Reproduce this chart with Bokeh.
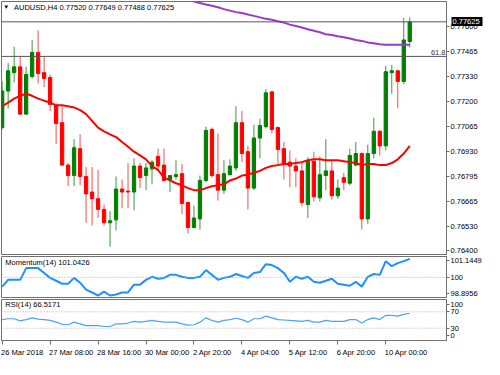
import numpy as np
from bokeh.plotting import figure
from bokeh.models import (Range1d, FixedTicker, PrintfTickFormatter, Label, Span, ColumnDataSource,
                          LinearAxis)
from bokeh.layouts import column
from bokeh.embed import file_html
from bokeh.resources import INLINE

FONT = "Liberation Sans"
FS = "7.5px"

# ---------------- data (AUDUSD H4) ----------------
open_px = [0.77059, 0.77255, 0.77353, 0.77384, 0.77131, 0.77332, 0.77461, 0.77353, 0.77327, 0.77178,
           0.77085, 0.76858, 0.76802, 0.76946, 0.76797, 0.76714, 0.76678, 0.76621, 0.76549, 0.76565,
           0.76730, 0.76719, 0.76714, 0.76853, 0.76802, 0.76838, 0.76905, 0.76858, 0.76781, 0.76797,
           0.76812, 0.76658, 0.76524, 0.76570, 0.76776, 0.77049, 0.76807, 0.76724, 0.76807, 0.76843,
           0.77085, 0.76930, 0.76735, 0.77003, 0.77064, 0.77250, 0.77059, 0.76946, 0.76874, 0.76853,
           0.76827, 0.76647, 0.76879, 0.76683, 0.76802, 0.76827, 0.76694, 0.76791, 0.76761, 0.76858,
           0.76920, 0.76570, 0.76920, 0.77039, 0.76961, 0.77353, 0.77363, 0.77306, 0.77520]
high_px = [0.77306, 0.77404, 0.77492, 0.77440, 0.77384, 0.77528, 0.77579, 0.77440, 0.77343, 0.77188,
           0.77173, 0.76869, 0.76997, 0.77023, 0.76848, 0.76848, 0.76833, 0.76647, 0.76611, 0.76797,
           0.76781, 0.76869, 0.76894, 0.76869, 0.76869, 0.76884, 0.76946, 0.76946, 0.76802, 0.76884,
           0.76864, 0.76663, 0.76642, 0.76802, 0.77064, 0.77059, 0.77028, 0.76884, 0.76889, 0.77173,
           0.77147, 0.76961, 0.77075, 0.77106, 0.77265, 0.77255, 0.77064, 0.76982, 0.76936, 0.76894,
           0.76879, 0.76900, 0.76930, 0.76905, 0.76997, 0.76879, 0.76781, 0.76817, 0.76946, 0.76982,
           0.76925, 0.76967, 0.77111, 0.77044, 0.77389, 0.77394, 0.77368, 0.77646, 0.77649]
low_px = [0.77049, 0.77162, 0.77301, 0.77126, 0.77126, 0.77322, 0.77296, 0.77276, 0.77147, 0.76972,
          0.76853, 0.76745, 0.76745, 0.76750, 0.76549, 0.76534, 0.76575, 0.76534, 0.76421, 0.76508,
          0.76627, 0.76627, 0.76616, 0.76735, 0.76724, 0.76755, 0.76827, 0.76771, 0.76714, 0.76781,
          0.76596, 0.76493, 0.76518, 0.76513, 0.76766, 0.76791, 0.76668, 0.76704, 0.76802, 0.76827,
          0.76874, 0.76621, 0.76724, 0.76894, 0.77054, 0.77028, 0.76858, 0.76781, 0.76740, 0.76740,
          0.76637, 0.76575, 0.76663, 0.76663, 0.76724, 0.76673, 0.76678, 0.76724, 0.76750, 0.76853,
          0.76513, 0.76544, 0.76894, 0.76910, 0.76936, 0.77240, 0.77162, 0.77291, 0.77488]
close_px = [0.77255, 0.77363, 0.77384, 0.77131, 0.77343, 0.77461, 0.77348, 0.77322, 0.77183, 0.77080,
            0.76858, 0.76802, 0.76951, 0.76797, 0.76704, 0.76678, 0.76621, 0.76549, 0.76560, 0.76730,
            0.76714, 0.76714, 0.76853, 0.76791, 0.76843, 0.76874, 0.76853, 0.76776, 0.76802, 0.76807,
            0.76652, 0.76524, 0.76575, 0.76776, 0.77044, 0.76802, 0.76724, 0.76812, 0.76853, 0.77085,
            0.76920, 0.76735, 0.77003, 0.77070, 0.77245, 0.77049, 0.76941, 0.76864, 0.76853, 0.76827,
            0.76658, 0.76879, 0.76688, 0.76807, 0.76827, 0.76694, 0.76735, 0.76766, 0.76910, 0.76920,
            0.76570, 0.76920, 0.77039, 0.76961, 0.77358, 0.77363, 0.77306, 0.77528, 0.77625]
ma_red = [0.77173, 0.77193, 0.77214, 0.77229, 0.77240, 0.77229, 0.77214, 0.77203, 0.77193, 0.77178,
          0.77178, 0.77173, 0.77167, 0.77152, 0.77131, 0.77095, 0.77059, 0.77039, 0.77023, 0.77008,
          0.76982, 0.76956, 0.76930, 0.76910, 0.76889, 0.76853, 0.76833, 0.76791, 0.76776, 0.76761,
          0.76750, 0.76735, 0.76724, 0.76724, 0.76735, 0.76745, 0.76750, 0.76755, 0.76776, 0.76786,
          0.76802, 0.76807, 0.76817, 0.76827, 0.76843, 0.76853, 0.76858, 0.76864, 0.76864, 0.76869,
          0.76874, 0.76884, 0.76889, 0.76889, 0.76884, 0.76884, 0.76884, 0.76879, 0.76874, 0.76869,
          0.76858, 0.76864, 0.76864, 0.76858, 0.76858, 0.76869, 0.76889, 0.76920, 0.76961]
purple_start = 30
ma_purple = [0.77749, 0.77744, 0.77734, 0.77726, 0.77718, 0.77711, 0.77703, 0.77693, 0.77685, 0.77677,
             0.77672, 0.77664, 0.77657, 0.77649, 0.77641, 0.77636, 0.77628, 0.77621, 0.77610, 0.77603,
             0.77595, 0.77585, 0.77577, 0.77569, 0.77559, 0.77554, 0.77548, 0.77543, 0.77536, 0.77528,
             0.77523, 0.77515, 0.77510, 0.77505, 0.77502, 0.77502, 0.77502, 0.77502, 0.77502]
momentum = [99.48, 99.86, 99.86, 99.86, 100.52, 100.52, 100.52, 100.25, 99.97, 99.81,
            99.64, 99.64, 99.97, 99.70, 99.31, 99.15, 98.98, 99.20, 98.98, 99.04,
            99.15, 99.15, 99.59, 99.59, 99.86, 100.03, 99.92, 99.97, 100.14, 100.14,
            100.03, 99.97, 99.97, 100.03, 100.41, 100.14, 99.86, 99.97, 100.03, 100.19,
            100.08, 99.97, 100.25, 100.30, 100.74, 100.69, 100.52, 100.25, 99.75, 100.03,
            99.92, 100.03, 99.75, 99.70, 99.81, 99.92, 99.64, 99.59, 99.53, 99.75,
            99.48, 100.03, 100.19, 100.14, 100.91, 100.63, 100.80, 100.91, 101.04]
rsi = [51.0, 53.1, 53.1, 47.9, 51.0, 55.2, 52.1, 51.0, 48.9, 44.7,
       39.5, 38.4, 44.7, 40.5, 36.3, 36.3, 36.3, 34.2, 34.2, 40.5,
       40.5, 42.6, 46.8, 44.7, 46.8, 48.9, 46.8, 44.7, 44.7, 44.7,
       40.5, 37.4, 38.4, 44.7, 55.2, 48.9, 44.7, 48.9, 51.0, 54.2,
       51.0, 44.7, 53.1, 53.1, 59.4, 55.2, 51.0, 50.0, 48.9, 47.9,
       46.8, 48.9, 44.7, 44.7, 48.9, 46.8, 46.8, 46.8, 51.0, 51.0,
       42.6, 51.0, 55.2, 51.0, 61.5, 61.5, 59.4, 63.6, 66.5]
price_ticks = [0.77600, 0.77465, 0.77330, 0.77200, 0.77065, 0.76930, 0.76795, 0.76665, 0.76530, 0.76400]
time_tick_bars = [0, 8, 16, 24, 32, 40, 48, 56, 64]
time_tick_labels = ["26 Mar 2018", "27 Mar 08:00", "28 Mar 16:00", "30 Mar 00:00", "2 Apr 20:00",
                    "4 Apr 04:00", "5 Apr 12:00", "6 Apr 20:00", "10 Apr 00:00"]
title_text = "AUDUSD,H4  0.77520 0.77649 0.77488 0.77625"
bid_price = 0.77625
fib_level = 0.77440
fib_label = "61.8"
mom_title = "Momentum(14) 101.0426"
rsi_title = "RSI(14) 66.5171"
mom_tick_pos = [99.094, 100.0, 100.96]
mom_tick_text = ["98.8956", "100", "101.1449"]
rsi_tick_pos = [11, 30, 70, 89]
rsi_tick_text = ["0", "30", "70", "100"]

# ---------------- build ----------------
n = len(close_px)
idx = np.arange(n)
o = np.array(open_px); h = np.array(high_px); l = np.array(low_px); c = np.array(close_px)
bull = c >= o
src = ColumnDataSource(dict(
    x=idx, top=np.maximum(o, c), bottom=np.minimum(o, c), high=h, low=l,
    body=np.where(bull, "#008000", "#ff0000").tolist(),
    wick=np.where(bull, "#3a9a3a", "#ff4a4a").tolist()))

GRAY = "#707070"
W = 484
BORDER_L, BORDER_R = 1, 37
FRAME_W = W - BORDER_L - BORDER_R
X0, X1 = -0.11, 74.13
xr = Range1d(X0, X1)
PX_PER_BAR = FRAME_W / (X1 - X0)

# approximate Liberation Sans advance widths (em) to left-align date labels at their ticks
_CW = {" ": 0.278, ":": 0.278, "M": 0.833, "A": 0.667, "a": 0.556, "r": 0.333, "p": 0.556, ".": 0.278}


def text_px(s, size=7.5):
    return sum(_CW.get(ch, 0.556) for ch in s) * size


def make_fig(height, yr, top, bottom, with_x):
    p = figure(width=W, height=height, x_range=xr, y_range=yr, output_backend="svg",
               toolbar_location=None, tools="", y_axis_location="right",
               x_axis_location="below" if with_x else None,
               min_border_left=BORDER_L, min_border_right=BORDER_R,
               min_border_top=top, min_border_bottom=bottom)
    p.grid.visible = False
    p.outline_line_color = GRAY
    p.outline_line_width = 1
    p.background_fill_color = "white"
    p.border_fill_color = "white"
    for ax in p.yaxis:
        ax.axis_line_color = GRAY
        ax.major_tick_line_color = GRAY
        ax.minor_tick_line_color = None
        ax.major_tick_out = 3
        ax.major_tick_in = 0
        ax.major_label_standoff = 1
        ax.major_label_text_font = FONT
        ax.major_label_text_font_size = FS
        ax.major_label_text_color = "black"
    return p


# main price panel
main = make_fig(255, Range1d(0.763795, 0.777339), 1, 1, False)
main.yaxis.ticker = FixedTicker(ticks=price_ticks)
main.yaxis.formatter = PrintfTickFormatter(format="%.5f")
main.add_layout(Span(location=bid_price, dimension="width", line_color="#555555", line_width=1))
main.add_layout(Span(location=fib_level, dimension="width", line_color="#555555", line_width=1))
main.segment(x0="x", y0="low", x1="x", y1="high", line_color="wick", line_width=1, source=src)
main.vbar(x="x", width=0.55, top="top", bottom="bottom", fill_color="body", line_color="body",
          line_width=1, source=src)
main.line(idx, ma_red, line_color="#ff0000", line_width=2)
main.line(list(range(purple_start, purple_start + len(ma_purple))), ma_purple,
          line_color="#9a3acd", line_width=2)
main.add_layout(Label(x=0.69, y=0.77703, text="\u25BC", text_font=FONT, text_font_size="6px",
                      text_baseline="middle", text_align="center", text_color="black"))
main.add_layout(Label(x=1.97, y=0.77703, text=title_text, text_font=FONT, text_font_size=FS,
                      text_baseline="middle", text_align="left", text_color="black"))
main.add_layout(Label(x=X1, y=fib_level, text=fib_label, text_font=FONT, text_font_size=FS,
                      text_baseline="bottom", text_align="right", x_offset=-1, y_offset=1,
                      text_color="#333333"))

# current price tag: a second right axis stacked outside the price axis; its single tick is
# drawn inwards as a thick black bar and its white label pulled back over that bar
price_axis_w = 3 + 1 + round(text_px("0.77600"))          # tick_out + standoff + label width
tag_axis = LinearAxis(ticker=FixedTicker(ticks=[bid_price]), formatter=PrintfTickFormatter(format="%.5f"),
                      axis_line_color=None, minor_tick_line_color=None,
                      major_tick_line_color="black", major_tick_line_width=9,
                      major_tick_in=price_axis_w - 2, major_tick_out=2,
                      major_label_standoff=-(price_axis_w - 1),
                      major_label_text_font=FONT, major_label_text_font_size=FS,
                      major_label_text_color="white")
main.add_layout(tag_axis, "right")

# momentum panel
mom = make_fig(43, Range1d(98.868, 101.172), 1, 1, False)
mom.yaxis.ticker = FixedTicker(ticks=mom_tick_pos)
mom.yaxis.major_label_overrides = {p: t for p, t in zip(mom_tick_pos, mom_tick_text)}
mom.add_layout(Span(location=100, dimension="width", line_color="#a8a8a8", line_width=1, line_dash="1 2"))
mom.line(idx, momentum, line_color="#1e90ff", line_width=2)
mom.add_layout(Label(x=0.53, y=100.85, text=mom_title, text_font=FONT, text_font_size=FS,
                     text_baseline="middle", text_align="left", text_color="black"))

# RSI panel
rs = make_fig(61, Range1d(0, 100), 1, 14, True)
rs.yaxis.ticker = FixedTicker(ticks=rsi_tick_pos)
rs.yaxis.major_label_overrides = {p: t for p, t in zip(rsi_tick_pos, rsi_tick_text)}
for lv in (70, 30):
    rs.add_layout(Span(location=lv, dimension="width", line_color="#a8a8a8", line_width=1, line_dash="1 2"))
rs.line(idx, rsi, line_color="#4aa3ff", line_width=1.2)
rs.add_layout(Label(x=0.53, y=88.8, text=rsi_title, text_font=FONT, text_font_size=FS,
                    text_baseline="middle", text_align="left", text_color="black"))

# time axis: tick marks (minor ticks) at the bars, labels centred so they start at the tick
label_centres = [b + (text_px(t) / 2 - 1) / PX_PER_BAR for b, t in zip(time_tick_bars, time_tick_labels)]
xa = rs.xaxis[0]
xa.ticker = FixedTicker(ticks=label_centres, minor_ticks=time_tick_bars)
xa.major_label_overrides = {cpos: t for cpos, t in zip(label_centres, time_tick_labels)}
xa.major_tick_line_color = None
xa.major_tick_out = 0
xa.major_tick_in = 0
xa.minor_tick_line_color = GRAY
xa.minor_tick_out = 4
xa.minor_tick_in = 0
xa.axis_line_color = GRAY
xa.major_label_standoff = 3
xa.major_label_text_font = FONT
xa.major_label_text_font_size = FS
xa.major_label_text_color = "black"

layout = column(main, mom, rs)
open("out.html", "w").write(file_html(layout, INLINE))
